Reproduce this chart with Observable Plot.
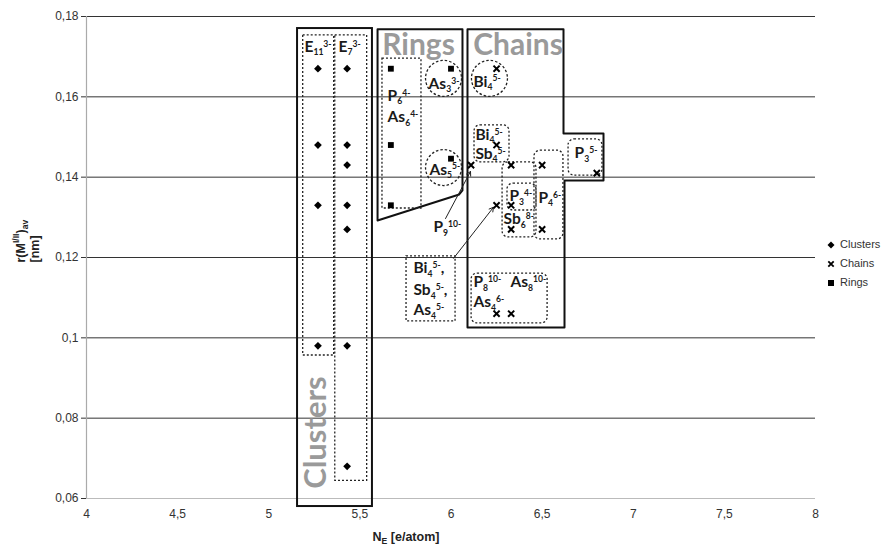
<!DOCTYPE html>
<html><head><meta charset="utf-8">
<script src="https://cdn.jsdelivr.net/npm/d3@7"></script>
<script src="https://cdn.jsdelivr.net/npm/@observablehq/plot@0.6"></script>
<style>
body{margin:0;background:#fff;}
#wrap{position:relative;width:886px;height:548px;}
.lg{position:absolute;font:11px 'Liberation Sans',Arial,sans-serif;color:#333;white-space:nowrap;}
.lg svg{position:absolute;}
</style></head><body><div id="wrap"></div>
<script>
// ---------- data ----------
const xTicks = [4, 4.5, 5, 5.5, 6, 6.5, 7, 7.5, 8];
const xTickLabels = ["4", "4,5", "5", "5,5", "6", "6,5", "7", "7,5", "8"];
const yTicks = [0.06, 0.08, 0.1, 0.12, 0.14, 0.16, 0.18];
const yTickLabels = ["0,06", "0,08", "0,1", "0,12", "0,14", "0,16", "0,18"];

const clusterX = [5.27, 5.27, 5.27, 5.27, 5.43, 5.43, 5.43, 5.43, 5.43, 5.43, 5.43];
const clusterY = [0.167, 0.148, 0.133, 0.098, 0.167, 0.148, 0.143, 0.133, 0.127, 0.098, 0.068];
const ringX = [5.67, 5.67, 5.67, 6.0, 6.0];
const ringY = [0.167, 0.148, 0.133, 0.167, 0.1446];
const chainX = [6.25, 6.25, 6.11, 6.33, 6.33, 6.33, 6.25, 6.5, 6.5, 6.8, 6.25, 6.33];
const chainY = [0.167, 0.148, 0.143, 0.143, 0.133, 0.127, 0.133, 0.143, 0.127, 0.141, 0.106, 0.106];

// annotation geometry (data units)
const clustersOutline = [{x1: 5.158, x2: 5.569, y1: 0.058, y2: 0.177}];
const ringsOutline = [[5.597, 0.1768], [6.063, 0.1768], [6.063, 0.1367], [6.045, 0.1357], [5.597, 0.1292], [5.597, 0.1768]];
const chainsOutline = [[6.0905, 0.1768], [6.6173, 0.1768], [6.6173, 0.1509], [6.8368, 0.1509], [6.8368, 0.1392], [6.6228, 0.1392], [6.6228, 0.1026], [6.0905, 0.1026], [6.0905, 0.1768]];
const dottedBoxes = [
  {x1: 5.189, x2: 5.359, y1: 0.0956, y2: 0.1753},
  {x1: 5.365, x2: 5.540, y1: 0.0644, y2: 0.1753},
  {x1: 5.624, x2: 5.838, y1: 0.1322, y2: 0.1695},
  {x1: 5.756, x2: 6.025, y1: 0.1041, y2: 0.1203}
];
const roundedBoxes = [
  {x1: 6.129, x2: 6.321, y1: 0.1437, y2: 0.1529},
  {x1: 6.283, x2: 6.469, y1: 0.1250, y2: 0.1437},
  {x1: 6.310, x2: 6.469, y1: 0.1317, y2: 0.1384},
  {x1: 6.458, x2: 6.617, y1: 0.1245, y2: 0.1466},
  {x1: 6.645, x2: 6.831, y1: 0.1404, y2: 0.1494},
  {x1: 6.113, x2: 6.530, y1: 0.1036, y2: 0.1160}
];
const circleX = [5.959, 5.959, 6.211];
const circleY = [0.1646, 0.1424, 0.1646];
const arrows = [
  {x1: 5.970, y1: 0.1297, x2: 6.107, y2: 0.1414},
  {x1: 6.014, y1: 0.1198, x2: 6.233, y2: 0.1325}
];

const labelText = ["E_{11}^{3-}", "E_{7}^{3-}", "P_{6}^{4-}", "As_{6}^{4-}", "As_{3}^{3-}", "As_{5}^{5-}",
  "Bi_{4}^{5-}", "Bi_{4}^{5-}", "Sb_{4}^{5-}", "P_{3}^{4-}", "Sb_{6}^{8-}", "P_{4}^{6-}", "P_{3}^{5-}",
  "P_{9}^{10-}", "Bi_{4}^{5-},", "Sb_{4}^{5-},", "As_{4}^{5-}", "P_{8}^{10-}", "As_{8}^{10-}", "As_{4}^{6-}"];
const labelX = [5.196, 5.383, 5.652, 5.652, 5.877, 5.882, 6.123, 6.134, 6.134, 6.321, 6.288, 6.480, 6.678,
  5.904, 5.794, 5.794, 5.794, 6.123, 6.326, 6.123];
const labelY = [0.1725, 0.1725, 0.1603, 0.1549, 0.1633, 0.1419, 0.1638, 0.1506, 0.1458, 0.1352, 0.1295, 0.1349, 0.1459,
  0.1275, 0.1173, 0.1118, 0.1068, 0.1138, 0.1138, 0.1088];

const groupText = ["Rings", "Chains"];
const groupX = [5.822, 6.368];
const groupY = [0.1728, 0.1728];
const clustersTextX = [5.262];
const clustersTextY = [0.0764];

const legendNames = ["Clusters", "Chains", "Rings"];

// ---------- build ----------
const idx = a => a.map((_, i) => i);
const fmtX = d => xTickLabels[xTicks.indexOf(d)];
const fmtY = d => yTickLabels[yTicks.indexOf(d)];
const labelFont = "Lato, 'Open Sans', sans-serif";
const narrow = "'Liberation Sans Narrow','Liberation Sans',Arial,sans-serif";

const svg = Plot.plot({
  width: 886, height: 548,
  marginLeft: 86, marginRight: 71, marginTop: 16, marginBottom: 50,
  style: {background: "#fff", color: "#333", fontFamily: narrow, fontSize: "12px", overflow: "visible"},
  x: {domain: [4, 8], ticks: xTicks, tickFormat: fmtX, tickSize: 0, tickPadding: 11, label: null},
  y: {domain: [0.06, 0.18], ticks: yTicks, tickFormat: fmtY, tickSize: 5, tickPadding: 3, label: null},
  marks: [
    Plot.ruleY(yTicks.filter(v => v > 0.06), {stroke: "#333", strokeWidth: 1}),
    Plot.ruleY([0.06], {stroke: "#bbb", strokeWidth: 1.2}),
    Plot.ruleX([4], {stroke: "#aaa", strokeWidth: 1.2}),
    // outlines
    Plot.rect(clustersOutline, {x1: "x1", x2: "x2", y1: "y1", y2: "y2", fill: "none", stroke: "#111", strokeWidth: 2}),
    Plot.line(ringsOutline, {x: d => d[0], y: d => d[1], stroke: "#111", strokeWidth: 2}),
    Plot.line(chainsOutline, {x: d => d[0], y: d => d[1], stroke: "#111", strokeWidth: 2}),
    Plot.rect(dottedBoxes, {x1: "x1", x2: "x2", y1: "y1", y2: "y2", fill: "none", stroke: "#222", strokeWidth: 1.3, strokeDasharray: "2,2"}),
    Plot.rect(roundedBoxes, {x1: "x1", x2: "x2", y1: "y1", y2: "y2", rx: 6, fill: "none", stroke: "#222", strokeWidth: 1.3, strokeDasharray: "2,2"}),
    Plot.dot(idx(circleX), {x: i => circleX[i], y: i => circleY[i], r: 18, fill: "none", stroke: "#222", strokeWidth: 1.3, strokeDasharray: "2.5,2"}),
    Plot.arrow(arrows, {x1: "x1", y1: "y1", x2: "x2", y2: "y2", stroke: "#222", strokeWidth: 1, headLength: 7}),
    // group titles
    Plot.text(idx(groupText), {x: i => groupX[i], y: i => groupY[i], text: i => groupText[i], fontFamily: labelFont, fontWeight: "bold", fontSize: 30, fill: "#9a9a9a", textAnchor: "middle"}),
    Plot.text(["Clusters"], {x: () => clustersTextX[0], y: () => clustersTextY[0], fontFamily: labelFont, fontWeight: "bold", fontSize: 31, fill: "#9a9a9a", rotate: -90}),
    // data
    Plot.dot(idx(clusterX), {x: i => clusterX[i], y: i => clusterY[i], symbol: "diamond2", r: 3.5, fill: "#000", stroke: "none"}),
    Plot.dot(idx(ringX), {x: i => ringX[i], y: i => ringY[i], symbol: "square", r: 3.3, fill: "#000", stroke: "none"}),
    Plot.dot(idx(chainX), {x: i => chainX[i], y: i => chainY[i], symbol: "times", r: 2.9, stroke: "#000", strokeWidth: 2, fill: "none"}),
    // species labels
    Plot.text(idx(labelText), {x: i => labelX[i], y: i => labelY[i], text: i => labelText[i], textAnchor: "start", fontFamily: labelFont, fontWeight: "bold", fontSize: 15.5, fill: "#1a1a1a"}),
    // axis titles
    Plot.text(["N_{E} [e/atom]"], {frameAnchor: "bottom", dx: -45, dy: 42, fontFamily: narrow, fontWeight: "bold", fontSize: 12.5, fill: "#222"}),
    Plot.text(["r(M^{I/II})_{av}"], {frameAnchor: "left", dx: -66, dy: 5, rotate: -90, fontFamily: narrow, fontWeight: "bold", fontSize: 12.5, fill: "#222"}),
    Plot.text(["[nm]"], {frameAnchor: "left", dx: -52, dy: 5, rotate: -90, fontFamily: narrow, fontWeight: "bold", fontSize: 12.5, fill: "#222"})
  ]
});

// rich text: sub/superscripts
const NS = "http://www.w3.org/2000/svg";
svg.querySelectorAll("text").forEach(t => {
  const s = t.textContent;
  if (!/[_^]\{/.test(s)) return;
  const fs = parseFloat(getComputedStyle(t).fontSize) || 12;
  t.textContent = "";
  const re = /_\{([^}]*)\}|\^\{([^}]*)\}|([^_^]+)/g;
  let m, cur = 0;
  while ((m = re.exec(s))) {
    const sp = document.createElementNS(NS, "tspan");
    let target, small;
    if (m[1] !== undefined) { target = 0.28 * fs; small = true; sp.textContent = m[1]; }
    else if (m[2] !== undefined) { target = -0.42 * fs; small = true; sp.textContent = m[2]; }
    else { target = 0; small = false; sp.textContent = m[3]; }
    if (target !== cur) sp.setAttribute("dy", (target - cur).toFixed(2));
    cur = target;
    if (small) sp.setAttribute("font-size", (fs * 0.72).toFixed(1));
    t.appendChild(sp);
  }
});

const wrap = document.getElementById("wrap");
wrap.appendChild(svg);

// legend
const lgRows = [245, 264, 283];
const symbols = [
  '<polygon points="4,0.5 7.5,4 4,7.5 0.5,4" fill="#000"/>',
  '<path d="M1.3,1.3L6.7,6.7M6.7,1.3L1.3,6.7" stroke="#000" stroke-width="1.8"/>',
  '<rect x="1" y="1" width="6" height="6" fill="#000"/>'
];
legendNames.forEach((name, i) => {
  const d = document.createElement("div");
  d.className = "lg";
  d.style.left = "827px";
  d.style.top = (lgRows[i] - 7) + "px";
  d.innerHTML = '<svg width="8" height="8" style="left:0;top:3px">' + symbols[i] + '</svg><span style="position:absolute;left:13px;top:0">' + name + '</span>';
  wrap.appendChild(d);
});
</script>
</body></html>
